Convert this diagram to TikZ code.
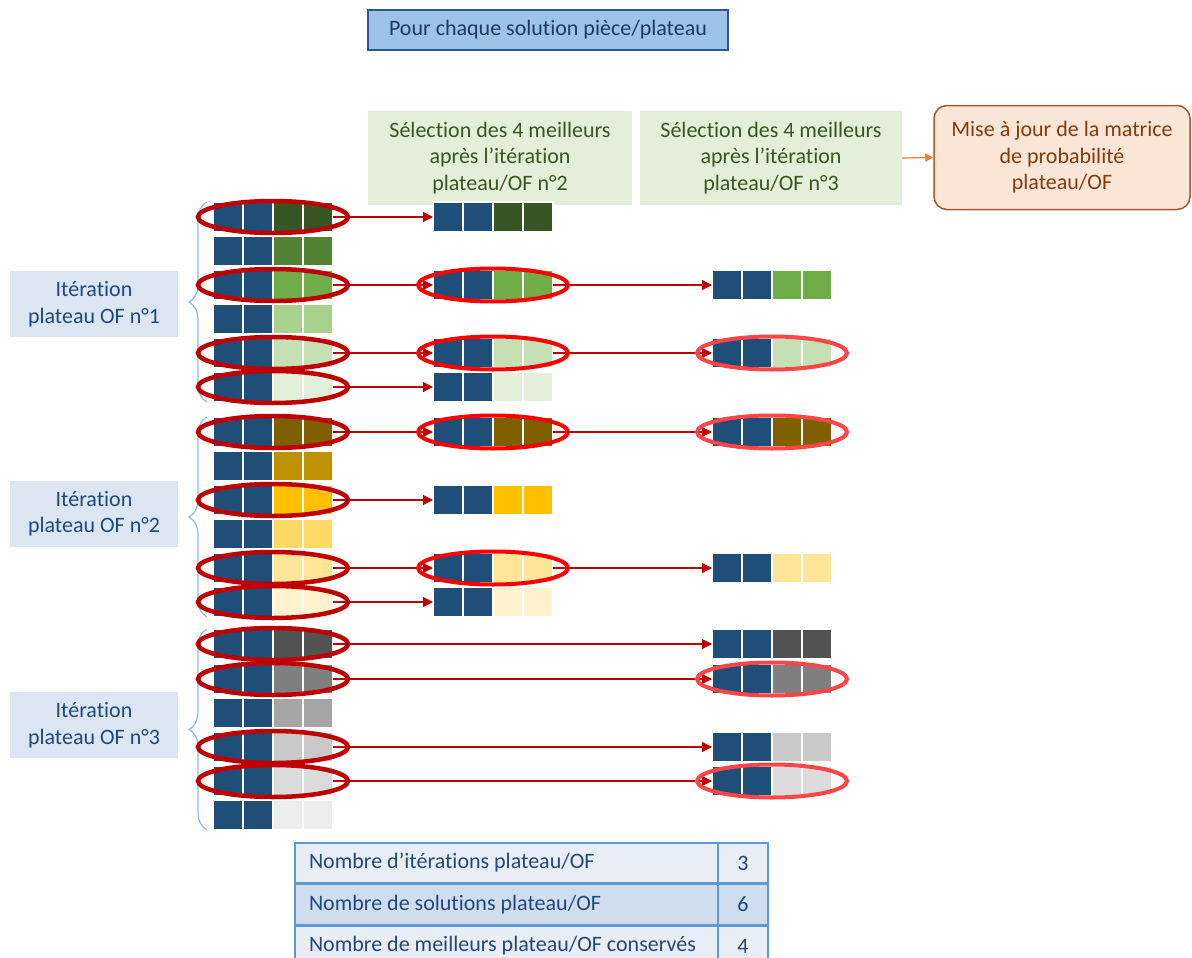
\documentclass[tikz,border=0pt]{standalone}
\usepackage{fontspec}
\setmainfont{Carlito}[Ligatures=NoCommon]
\usepackage{tikz}
\usetikzlibrary{arrows.meta,positioning,calc,decorations.pathreplacing}
\definecolor{navy}{HTML}{1F4E79}
\definecolor{ga}{HTML}{375623}\definecolor{gb}{HTML}{548235}\definecolor{gc}{HTML}{70AD47}
\definecolor{gd}{HTML}{A9D18E}\definecolor{ge}{HTML}{C5E0B4}\definecolor{gf}{HTML}{E2F0D9}
\definecolor{ya}{HTML}{7F6000}\definecolor{yb}{HTML}{BF9000}\definecolor{yc}{HTML}{FFC000}
\definecolor{yd}{HTML}{FFD966}\definecolor{ye}{HTML}{FFE699}\definecolor{yf}{HTML}{FFF2CC}
\definecolor{ka}{HTML}{525252}\definecolor{kb}{HTML}{7F7F7F}\definecolor{kc}{HTML}{A5A5A5}
\definecolor{kd}{HTML}{C9C9C9}\definecolor{ke}{HTML}{DBDBDB}\definecolor{kf}{HTML}{EDEDED}
\definecolor{darkred}{HTML}{C00000}
\definecolor{lightred}{HTML}{FF4545}
\definecolor{txtblue}{HTML}{1F497D}
\definecolor{ttlfill}{HTML}{9DC3E6}
\definecolor{ttlline}{HTML}{2F5597}
\definecolor{ttltext}{HTML}{1F3864}
\definecolor{lblue}{HTML}{DCE6F2}
\definecolor{tblline}{HTML}{5B9BD5}
\definecolor{rowa}{HTML}{E9EEF6}
\definecolor{rowb}{HTML}{D0DDEE}
\definecolor{majfill}{HTML}{FBE5D6}
\definecolor{majline}{HTML}{A65A2A}
\definecolor{majtext}{HTML}{843C0C}
\definecolor{orangearr}{HTML}{ED7D31}
% one solution: two navy cells, two coloured cells
\newcommand{\sol}[3]{%
  \node[blk] (#1) at #2 {};
  \foreach \k/\cc in {0/navy,1/navy,2/#3,3/#3}
    \filldraw[fill=\cc, draw=white, line width=1.6pt] ($(#1.north west)+(\k*30,0)$) rectangle ++(30,30);}
\newcommand{\param}[1]{\makebox[395pt][l]{#1}}

\begin{document}
\begin{tikzpicture}[x=1pt, y=-1pt, >={Triangle[length=10pt,width=10pt]},
  font=\fontsize{22pt}{26.5pt}\selectfont,
  blk/.style={minimum width=120pt, minimum height=30pt, inner sep=0pt, outer sep=0pt},
  sel/.style={->, darkred, line width=1.1pt},
  ringA/.style={darkred, line width=4.5pt},
  ringB/.style={red, line width=4pt},
  ringC/.style={lightred, line width=4pt},
  accol/.style={decorate, decoration={brace, amplitude=18pt}, tblline!70, line width=1.2pt},
  iter/.style={fill=lblue, text=txtblue, minimum width=168pt, minimum height=66pt, align=center, inner sep=0pt},
  selbox/.style={fill=gf, text=ga, minimum height=94pt, align=center, inner sep=0pt},
  tl/.style={draw=tblline, line width=1.5pt, text=txtblue, inner xsep=14pt, inner ysep=0pt, minimum height=40pt},
  tr/.style={draw=tblline, line width=1.5pt, text=txtblue, minimum width=50pt, minimum height=40pt, inner sep=0pt}]
\useasboundingbox (0,0) rectangle (1192,958);
% headings
\node[fill=ttlfill, draw=ttlline, line width=1.5pt, text=ttltext, minimum width=360pt, minimum height=40pt, inner sep=0pt] (ttl) at (548,30) {Pour chaque solution pièce/plateau};
\node[selbox, minimum width=264pt] (s2) at (500,158) {Sélection des 4 meilleurs\\après l’itération\\plateau/OF n°2};
\node[selbox, minimum width=262pt] (s3) at (771,158) {Sélection des 4 meilleurs\\après l’itération\\plateau/OF n°3};
\node[fill=majfill, draw=majline, line width=1.5pt, rounded corners=13pt, text=majtext, minimum width=256pt, minimum height=104pt, align=center, inner sep=0pt] (maj) at (1062,157.5) {Mise à jour de la matrice\\de probabilité\\plateau/OF};
\draw[->, orangearr, line width=1.2pt, >={Triangle[length=8pt,width=8pt]}] (s3.east) -- (maj.west);
% iteration labels
\node[iter] (it1) at (94,304) {Itération\\plateau OF n°1};
\node[iter] (it2) at (94,513.5) {Itération\\plateau OF n°2};
\node[iter] (it3) at (94,725) {Itération\\plateau OF n°3};
% all solutions of the three iterations
\foreach \n/\y/\col in {1/217/ga,2/251/gb,3/285/gc,4/319/gd,5/353/ge,6/387/gf,
  7/432/ya,8/466/yb,9/500/yc,10/534/yd,11/568/ye,12/602/yf,
  13/644/ka,14/679/kb,15/713/kc,16/747/kd,17/781/ke,18/815/kf}
  {\sol{a\n}{(273,\y)}{\col}}
% best after iteration 2
\foreach \n/\y/\col in {1/217/ga,3/285/gc,5/353/ge,6/387/gf,7/432/ya,9/500/yc,11/568/ye,12/602/yf}
  {\sol{b\n}{(493,\y)}{\col}}
% best after iteration 3
\foreach \n/\y/\col in {3/285/gc,5/353/ge,7/432/ya,11/568/ye,13/644/ka,14/679/kb,16/747/kd,17/781/ke}
  {\sol{c\n}{(772,\y)}{\col}}
% braces
\draw[accol] ([xshift=-6pt]a6.south west) -- ([xshift=-6pt]a1.north west);
\draw[accol] ([xshift=-6pt]a12.south west) -- ([xshift=-6pt]a7.north west);
\draw[accol] ([xshift=-6pt]a18.south west) -- ([xshift=-6pt]a13.north west);
% selection arrows
\foreach \r in {1,3,5,6,7,9,11,12} \draw[sel] (a\r.east) -- (b\r.west);
\foreach \r in {3,5,7,11} \draw[sel] (b\r.east) -- (c\r.west);
\foreach \r in {13,14,16,17} \draw[sel] (a\r.east) -- (c\r.west);
% kept solutions
\foreach \r in {1,3,5,6,7,9,11,12,13,14,16,17} \draw[ringA] (a\r.center) ellipse [x radius=75pt, y radius=16pt];
\foreach \r in {3,5,7,11} \draw[ringB] (b\r.center) ellipse [x radius=75pt, y radius=16.5pt];
\foreach \r in {5,7,14,17} \draw[ringC] (c\r.center) ellipse [x radius=75pt, y radius=16.5pt];
% parameters
\node[tl, fill=rowa] (p1) at (506.5,863) {\param{Nombre d’itérations plateau/OF}};
\node[tr, fill=rowa] (v1) at (743,863) {3};
\node[tl, fill=rowb, below=0pt of p1] (p2) {\param{Nombre de solutions plateau/OF}};
\node[tr, fill=rowb, below=0pt of v1] (v2) {6};
\node[tl, fill=rowa, below=0pt of p2] (p3) {\param{Nombre de meilleurs plateau/OF conservés}};
\node[tr, fill=rowa, below=0pt of v2] (v3) {4};
\end{tikzpicture}
\end{document}
